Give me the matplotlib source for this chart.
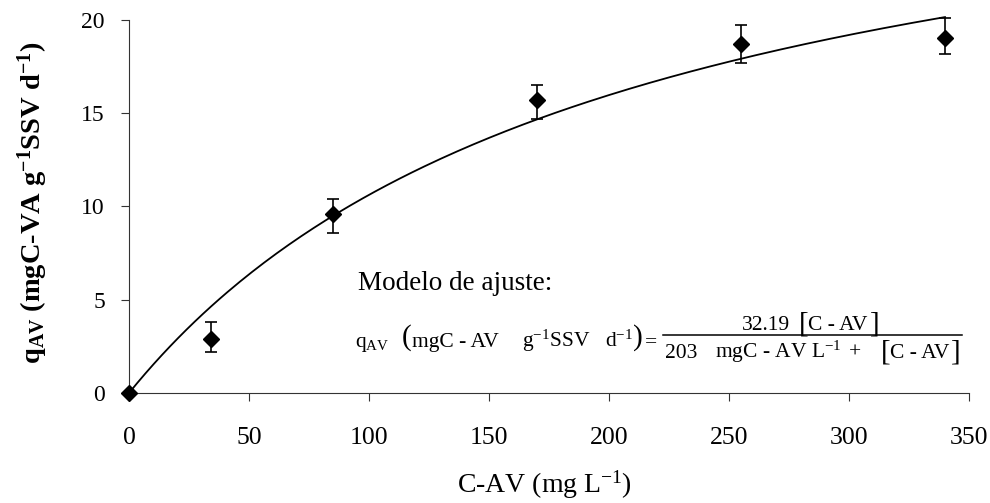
import numpy as np
import matplotlib
matplotlib.use("Agg")
import matplotlib.pyplot as plt
from matplotlib.lines import Line2D

plt.rcParams['font.family'] = ['Liberation Serif', 'DejaVu Serif']
plt.rcParams['mathtext.fontset'] = 'custom'
plt.rcParams['mathtext.rm'] = 'Liberation Serif'
plt.rcParams['mathtext.it'] = 'Liberation Serif:italic'
plt.rcParams['mathtext.bf'] = 'Liberation Serif:bold'

# Data
c_av = [0, 34, 85, 170, 255, 340]
q_av = [0, 2.9, 9.6, 15.7, 18.7, 19.05]
err_up = [0, 0.9, 0.8, 0.8, 1.05, 1.05]
err_dn = [0, 0.7, 1.0, 1.0, 1.0, 0.85]
qmax = 32.19
ks = 203
x_ticks = [0, 50, 100, 150, 200, 250, 300, 350]
y_ticks = [0, 5, 10, 15, 20]

W, H = 990, 503
fig = plt.figure(figsize=(9.9, 5.03), dpi=100)
ax = fig.add_axes([129 / W, 1 - 393 / H, 840 / W, 373 / H])

xf = np.linspace(0, 340, 200)
yf = qmax * xf / (ks + xf)
ax.plot(xf, yf, color='black', lw=1.3, clip_on=False)

ax.errorbar(c_av, q_av, yerr=[err_dn, err_up], fmt='D', color='black',
            ms=8, capsize=4, elinewidth=1.2, capthick=1.2, clip_on=False, zorder=5)

ax.set_xlim(0, 350)
ax.set_ylim(0, 20)
ax.set_xticks(x_ticks)
ax.set_yticks(y_ticks)
for s in ['top', 'right']:
    ax.spines[s].set_visible(False)
for s in ['left', 'bottom']:
    ax.spines[s].set_color('#333333')
ax.tick_params(axis='both', direction='out', length=5.8, color='#333333')
ax.tick_params(axis='x', labelsize=18.5, pad=19)
ax.tick_params(axis='y', labelsize=17, pad=11.5)

def ft(x, y, s, **kw):
    return fig.text(x / W, 1 - y / H, s, **kw)

# axis labels
ft(544, 485, 'C-AV (mg L$^{-1}$)', fontsize=20, ha='center', va='center')
ft(33, 203, r'q$_{\mathbf{AV}}$ (mgC-VA g$^{\mathbf{-1}}$SSV d$^{\mathbf{-1}}$)',
   fontsize=20.5, fontweight='bold', rotation=90, ha='center', va='center')

# Equation annotation
fs = 15.5
ft(358, 283, 'Modelo de ajuste:', fontsize=19.5, va='center', ha='left')

# left-hand side (baseline 347)
ft(355, 347, r'q$_{\mathrm{AV}}$', fontsize=fs, va='baseline', ha='left')
ft(402, 338, '(', fontsize=21, va='center', ha='left')
ft(412, 347, 'mgC - AV', fontsize=fs, va='baseline', ha='left')
ft(522, 347, r'g$^{-1}$SSV', fontsize=fs, va='baseline', ha='left')
ft(605, 347, r'd$^{-1}$', fontsize=fs, va='baseline', ha='left')
ft(633, 338, ')', fontsize=21, va='center', ha='left')
ft(645, 347, '=', fontsize=fs, va='baseline', ha='left')

# numerator (baseline 330)
ft(742, 330, '32.19', fontsize=fs, va='baseline', ha='left')
ft(799, 324, '[', fontsize=21, va='center', ha='left')
ft(808, 330, 'C - AV', fontsize=fs, va='baseline', ha='left')
ft(870, 324, ']', fontsize=21, va='center', ha='left')

# fraction bar
fig.add_artist(Line2D([663 / W, 962 / W], [1 - 335 / H, 1 - 335 / H],
                      color='black', lw=1.1, transform=fig.transFigure))

# denominator (baseline 358)
ft(665, 358, '203', fontsize=fs, va='baseline', ha='left')
ft(715, 358, r'mgC - AV L$^{-1}$', fontsize=fs, va='baseline', ha='left')
ft(849, 358, '+', fontsize=fs, va='baseline', ha='left')
ft(881, 352, '[', fontsize=21, va='center', ha='left')
ft(890, 358, 'C - AV', fontsize=fs, va='baseline', ha='left')
ft(951, 352, ']', fontsize=21, va='center', ha='left')

fig.savefig('out.png', dpi=100)
